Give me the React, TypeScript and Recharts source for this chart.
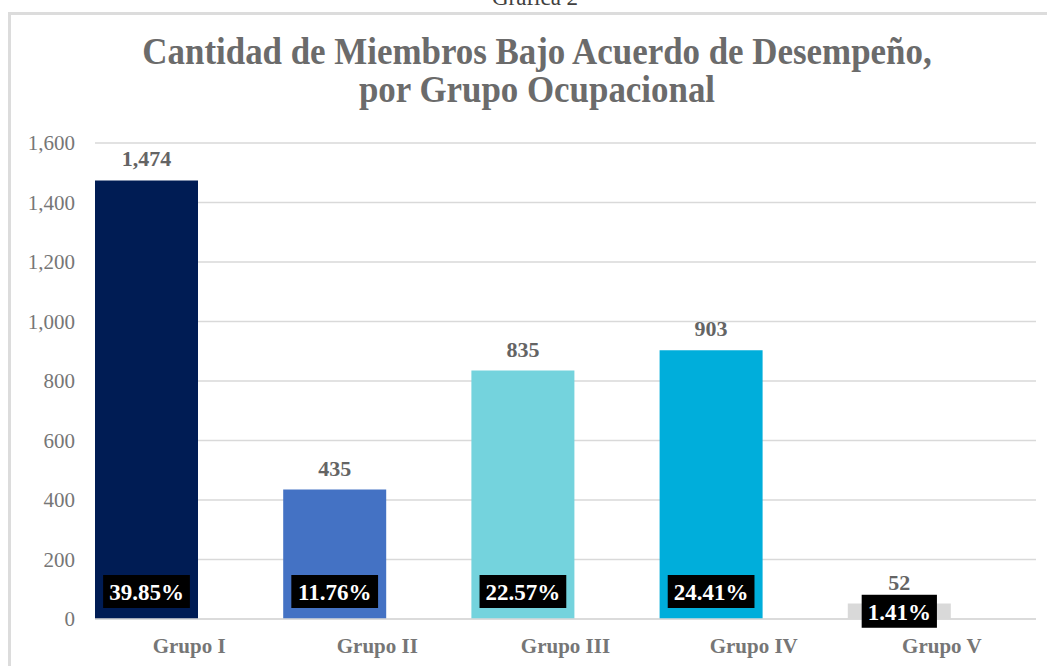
import { BarChart, Bar, XAxis, YAxis, CartesianGrid, LabelList, Cell } from "recharts";

const grupos = ["Grupo I", "Grupo II", "Grupo III", "Grupo IV", "Grupo V"];
const miembros = [1474, 435, 835, 903, 52];
const porcentajes = [39.85, 11.76, 22.57, 24.41, 1.41];
const colores = ["#001C54", "#4472C4", "#74D3DD", "#00AEDB", "#D9D9D9"];
const yTicks = [0, 200, 400, 600, 800, 1000, 1200, 1400, 1600];

const data = grupos.map((g, i) => ({ grupo: g, miembros: miembros[i], pct: porcentajes[i] }));

const SERIF = "'Liberation Serif', 'Times New Roman', serif";
const GRIS_TITULO = "#6b6b6b";
const GRIS_EJE = "#767676";
const GRIS_VALOR = "#646464";

// rough Times widths (em) so the black box hugs the text
function emWidth(s: string) {
  let w = 0;
  for (const c of s) {
    if (c === "%") w += 1;
    else if (c === "." || c === ",") w += 0.25;
    else w += 0.5;
  }
  return w;
}

function PctLabel(props: any) {
  const { x, y, width, height, value } = props;
  const text = `${Number(value).toFixed(2)}%`;
  const fs = 23;
  const bw = emWidth(text) * fs + 12;
  const bh = 33;
  const cx = x + width / 2;
  const base = y + height;
  const cy = height > bh + 20 ? base - 11 - bh / 2 : y + height / 2;
  return (
    <g>
      <rect x={cx - bw / 2} y={cy - bh / 2} width={bw} height={bh} fill="#000" />
      <text x={cx} y={cy + 1} textAnchor="middle" dominantBaseline="central" fill="#fff" fontFamily={SERIF} fontWeight="bold" fontSize={fs}>
        {text}
      </text>
    </g>
  );
}

export default function App() {
  return (
    <div style={{ position: "relative", width: 1047, height: 666, overflow: "hidden", background: "#fff" }}>
      <style>{`body{margin:0}`}</style>
      <div style={{ position: "absolute", top: -15, left: 435, width: 200, textAlign: "center", fontFamily: SERIF, fontSize: 23, color: "#404040" }}>
        Gráfica 2
      </div>
      <div style={{ position: "absolute", top: 12, left: 8, width: 1100, height: 700, borderTop: "3px solid #dcdcdc", borderLeft: "3px solid #dcdcdc" }} />
      <div
        style={{
          position: "absolute",
          top: 33,
          left: 37,
          width: 1000,
          textAlign: "center",
          fontFamily: SERIF,
          fontWeight: "bold",
          fontSize: 37,
          lineHeight: "38px",
          color: GRIS_TITULO,
          transform: "scaleX(0.943)",
          transformOrigin: "500px 0",
        }}
      >
        Cantidad de Miembros Bajo Acuerdo de Desempeño,
        <br />
        por Grupo Ocupacional
      </div>
      <div style={{ position: "absolute", top: 0, left: 0 }}>
        <BarChart width={1047} height={666} data={data} margin={{ top: 143, right: 11, bottom: 5, left: 0 }} barGap={0} barCategoryGap={0}>
          <CartesianGrid vertical={false} stroke="#d9d9d9" strokeWidth={1.5} />
          <XAxis
            dataKey="grupo"
            height={42}
            tickLine={false}
            tickSize={0}
            tickMargin={19}
            axisLine={{ stroke: "#d9d9d9", strokeWidth: 1.5 }}
            tick={{ fill: GRIS_EJE, fontFamily: SERIF, fontWeight: "bold", fontSize: 21 }}
            interval={0}
          />
          <YAxis
            width={95}
            domain={[0, 1600]}
            ticks={yTicks}
            interval={0}
            axisLine={false}
            tickLine={false}
            tickSize={0}
            tickMargin={20}
            tickFormatter={(v: number) => v.toLocaleString("en-US")}
            tick={{ fill: GRIS_EJE, fontFamily: SERIF, fontSize: 21 }}
          />
          <Bar dataKey="miembros" barSize={103} isAnimationActive={false}>
            {data.map((d, i) => (
              <Cell key={d.grupo} fill={colores[i]} />
            ))}
            <LabelList
              dataKey="miembros"
              position="top"
              offset={14}
              formatter={(v: any) => Number(v).toLocaleString("en-US")}
              fill={GRIS_VALOR}
              fontFamily={SERIF}
              fontWeight="bold"
              fontSize={22}
            />
            <LabelList dataKey="pct" content={PctLabel} />
          </Bar>
          {/* empty second series slot keeps the visible bars at the left of each group */}
          <Bar dataKey="pct" barSize={85} fill="none" isAnimationActive={false} />
        </BarChart>
      </div>
    </div>
  );
}
